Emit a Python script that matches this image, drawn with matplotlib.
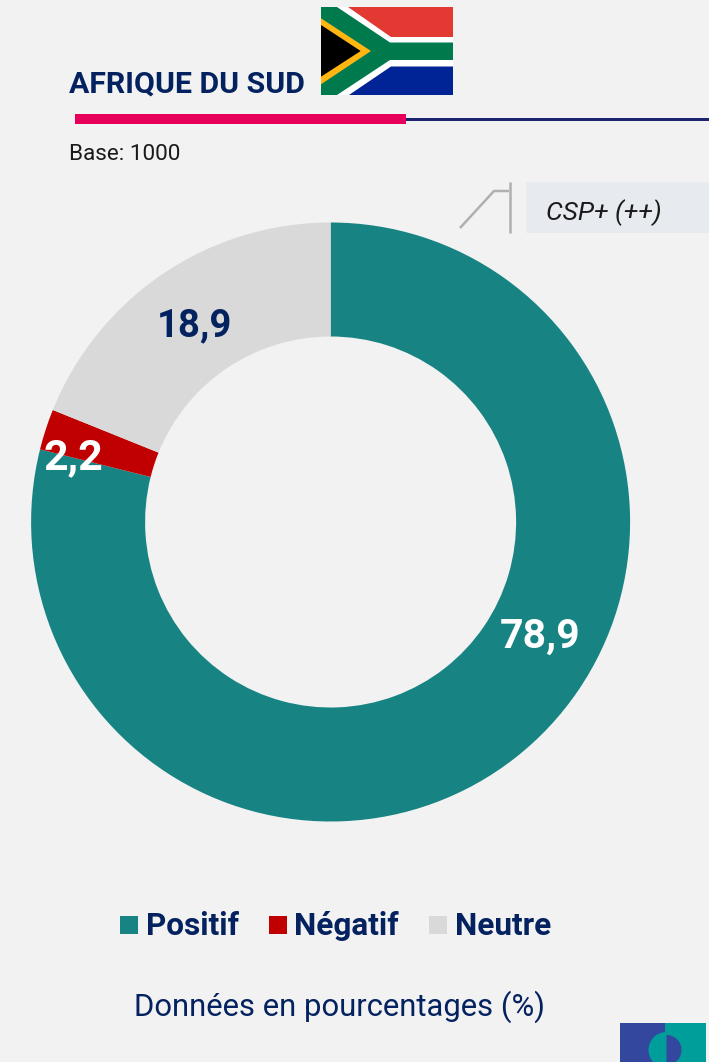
import matplotlib
matplotlib.use("Agg")
import matplotlib.pyplot as plt
from matplotlib.patches import Polygon, Rectangle, Wedge

categories = ["Positif", "Négatif", "Neutre"]
values = [78.9, 2.2, 18.9]
value_labels = ["78,9", "2,2", "18,9"]
colors = ["#188383", "#c00000", "#d9d9d9"]
label_colors = ["white", "white", "#04225f"]
NAVY = "#04225f"
FONT = "Roboto"

W, H = 709, 1062
fig = plt.figure(figsize=(W / 100, H / 100), dpi=100, facecolor="#f2f2f2")

# Donut axes placed in pixels
cx, cy, R, r = 330.6, 522, 299.5, 185.5
pie_ax = fig.add_axes([(cx - R) / W, 1 - (cy + R) / H, 2 * R / W, 2 * R / H])
pie_ax.pie(values, colors=colors, startangle=90, counterclock=False, radius=1,
           wedgeprops=dict(width=1 - r / R, linewidth=0))
pie_ax.set_xlim(-1, 1)
pie_ax.set_ylim(-1, 1)
pie_ax.set_axis_off()

# Overlay in pixel coordinates
ax = fig.add_axes([0, 0, 1, 1], facecolor="none")
ax.set_xlim(0, W)
ax.set_ylim(H, 0)
ax.set_axis_off()


def poly(pts, c):
    ax.add_patch(Polygon(pts, closed=True, fc=c, ec="none", lw=0))


# Flag
ax.add_patch(Rectangle((321, 7), 132, 88, fc="white", ec="none"))
poly([(347.5, 7), (453, 7), (453, 36.5), (391, 36.5)], "#e23a33")
poly([(349, 95), (391, 66.5), (453, 66.5), (453, 95)], "#002395")
poly([(321, 7), (337, 7), (390, 42.5), (453, 42.5), (453, 60), (390, 60), (337, 95), (321, 95)], "#007a4d")
poly([(321, 18.3), (371, 51), (321, 84.3)], "#ffb612")
poly([(321, 25), (360.7, 51), (321, 76.7)], "black")

# Title and rules
ax.text(69, 93, "AFRIQUE DU SUD", fontsize=21.8, fontweight="bold", family=FONT, color=NAVY, va="baseline")
ax.add_patch(Rectangle((406, 117.5), 303, 3, fc="#1c2470", ec="none"))
ax.add_patch(Rectangle((75, 114), 331, 10, fc="#e6005a", ec="none"))
ax.text(69, 160, "Base: 1000", fontsize=16.2, family=FONT, color="#1a1a1a", va="baseline")

# Callout
ax.add_patch(Rectangle((526, 182), 183, 51, fc="#e7eaef", ec="none"))
ax.plot([460, 494, 509], [228, 191, 191], color="#b0b0b0", lw=1.8, solid_capstyle="butt")
ax.plot([509.5, 509.5], [182, 233], color="#b0b0b0", lw=1.8, solid_capstyle="butt")
ax.text(546, 220, "CSP+ (++)", fontsize=19, style="italic", family=FONT, color="#1a1a1a", va="baseline")

# Value labels
for (x, y), t, c, fs in zip([(540, 637), (73, 458), (195, 326)], value_labels, label_colors, [29.5, 31, 27.5]):
    ax.text(x, y, t, fontsize=fs, fontweight="bold", family=FONT, color=c, ha="center", va="center")

# Legend
for sx, tx, name, c in zip([120, 269, 429], [146, 294, 455], categories, colors):
    ax.add_patch(Rectangle((sx, 916), 17.5, 18, fc=c, ec="none"))
    ax.text(tx, 935, name, fontsize=22.7, fontweight="bold", family=FONT, color=NAVY, va="baseline")

# Footer
ax.text(340, 1016, "Données en pourcentages (%)", fontsize=22.3, family=FONT, color=NAVY, ha="center", va="baseline")

# Logo
ax.add_patch(Rectangle((620, 1023), 45, 39, fc="#33479e", ec="none"))
ax.add_patch(Rectangle((665, 1023), 41, 39, fc="#009e9a", ec="none"))
ax.add_patch(Wedge((666.5, 1050), 18, 90, 270, fc="#009e9a", ec="none"))
ax.add_patch(Wedge((666.5, 1050), 15, -90, 90, fc="#33479e", ec="none"))

fig.savefig("out.png", dpi=100, facecolor=fig.get_facecolor())
